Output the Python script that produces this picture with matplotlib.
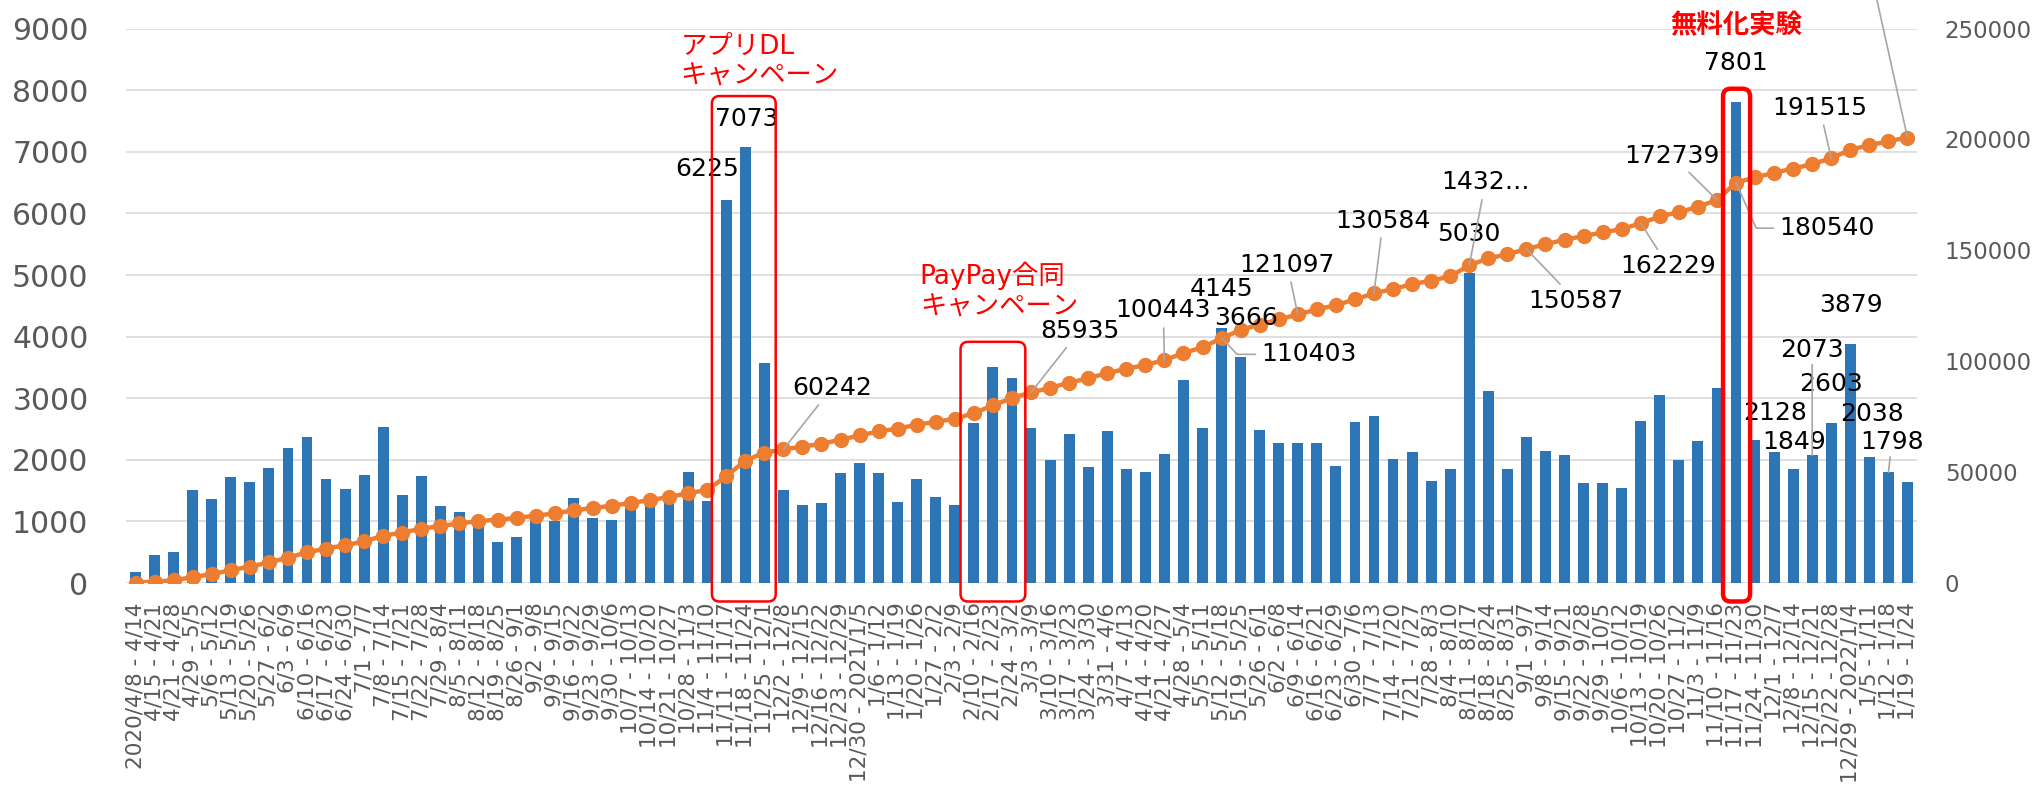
import numpy as np
import matplotlib
matplotlib.use("Agg")
import matplotlib.pyplot as plt
from matplotlib.patches import FancyBboxPatch

plt.rcParams['font.family'] = ['DejaVu Sans', 'Noto Sans CJK JP']

# weekly periods (x categories)
weeks = [
    "2020/4/8 - 4/14", "4/15 - 4/21", "4/21 - 4/28", "4/29 - 5/5", "5/6 - 5/12",
    "5/13 - 5/19", "5/20 - 5/26", "5/27 - 6/2", "6/3 - 6/9", "6/10 - 6/16",
    "6/17 - 6/23", "6/24 - 6/30", "7/1 - 7/7", "7/8 - 7/14", "7/15 - 7/21",
    "7/22 - 7/28", "7/29 - 8/4", "8/5 - 8/11", "8/12 - 8/18", "8/19 - 8/25",
    "8/26 - 9/1", "9/2 - 9/8", "9/9 - 9/15", "9/16 - 9/22", "9/23 - 9/29",
    "9/30 - 10/6", "10/7 - 10/13", "10/14 - 10/20", "10/21 - 10/27", "10/28 - 11/3",
    "11/4 - 11/10", "11/11 - 11/17", "11/18 - 11/24", "11/25 - 12/1", "12/2 - 12/8",
    "12/9 - 12/15", "12/16 - 12/22", "12/23 - 12/29", "12/30 - 2021/1/5",
    "1/6 - 1/12", "1/13 - 1/19", "1/20 - 1/26", "1/27 - 2/2", "2/3 - 2/9",
    "2/10 - 2/16", "2/17 - 2/23", "2/24 - 3/2", "3/3 - 3/9", "3/10 - 3/16",
    "3/17 - 3/23", "3/24 - 3/30", "3/31 - 4/6", "4/7 - 4/13", "4/14 - 4/20",
    "4/21 - 4/27", "4/28 - 5/4", "5/5 - 5/11", "5/12 - 5/18", "5/19 - 5/25",
    "5/26 - 6/1", "6/2 - 6/8", "6/9 - 6/14", "6/16 - 6/21", "6/23 - 6/29",
    "6/30 - 7/6", "7/7 - 7/13", "7/14 - 7/20", "7/21 - 7/27", "7/28 - 8/3",
    "8/4 - 8/10", "8/11 - 8/17", "8/18 - 8/24", "8/25 - 8/31", "9/1 - 9/7",
    "9/8 - 9/14", "9/15 - 9/21", "9/22 - 9/28", "9/29 - 10/5", "10/6 - 10/12",
    "10/13 - 10/19", "10/20 - 10/26", "10/27 - 11/2", "11/3 - 11/9", "11/10 - 11/16",
    "11/17 - 11/23", "11/24 - 11/30", "12/1 - 12/7", "12/8 - 12/14", "12/15 - 12/21",
    "12/22 - 12/28", "12/29 - 2022/1/4", "1/5 - 1/11", "1/12 - 1/18", "1/19 - 1/24",
]

# weekly count (bars, left axis)
weekly = [
    186, 453, 503, 1516, 1366, 1720, 1646, 1870, 2186, 2373,
    1683, 1522, 1758, 2534, 1422, 1733, 1242, 1149, 1050, 671,
    752, 1043, 1000, 1385, 1056, 1025, 1250, 1300, 1340, 1801,
    1335, 6225, 7073, 3565, 1509, 1261, 1298, 1780, 1955, 1789,
    1317, 1690, 1391, 1270, 2596, 3514, 3323, 2509, 2000, 2416,
    1890, 2460, 1850, 1800, 2092, 3292, 2523, 4145, 3666, 2491,
    2272, 2265, 2280, 1895, 2609, 2703, 2010, 2130, 1651, 1857,
    5030, 3110, 1845, 2370, 2145, 2075, 1622, 1628, 1540, 2632,
    3045, 1990, 2305, 3170, 7801, 2322, 2128, 1849, 2073, 2603,
    3879, 2038, 1798, 1633,
]

# running total (line, right axis)
total = [
    186, 639, 1142, 2658, 4024, 5744, 7390, 9260, 11446, 13819,
    15502, 17024, 18782, 21316, 22738, 24471, 25713, 26862, 27912, 28583,
    29335, 30378, 31378, 32763, 33819, 34844, 36094, 37394, 38734, 40535,
    41870, 48095, 55168, 58733, 60242, 61503, 62801, 64581, 66536, 68325,
    69642, 71332, 72723, 73993, 76589, 80103, 83426, 85935, 87935, 90351,
    92241, 94701, 96551, 98351, 100443, 103735, 106258, 110403, 114069, 116560,
    118832, 121097, 123377, 125272, 127881, 130584, 132594, 134724, 136375, 138232,
    143262, 146372, 148217, 150587, 152732, 154807, 156429, 158057, 159597, 162229,
    165274, 167264, 169569, 172739, 180540, 182862, 184990, 186839, 188912, 191515,
    195394, 197432, 199230, 200863,
]

# which points carry a value label
bar_label_idx = [31, 32, 57, 58, 70, 84, 86, 87, 89, 90, 91]
total_label_idx = [34, 47, 54, 57, 61, 65, 70, 73, 79, 83, 84, 89]
total_label_text = ["60242", "85935", "100443", "110403", "121097", "130584",
                    "1432…", "150587", "162229", "172739", "180540", "191515"]

# label positions (x in category units, y in left-axis units)
bar_label_pos = [(30.0, 6720), (32.1, 7530), (57.0, 4767), (58.3, 4300), (70.0, 5667),
                 (84.0, 8441), (86.04, 2762), (87.03, 2297), (88.98, 3228),
                 (90.03, 4519), (91.15, 2750)]
total_label_pos = [(36.55, 3166), (49.56, 4097), (53.94, 4425), (61.58, 3712),
                   (60.45, 5170), (65.48, 5884), (70.85, 6505), (75.61, 4581),
                   (80.46, 5139), (80.64, 6939), (88.75, 5760), (88.39, 7715)]
# leaders that bend (start from the left side of the label)
bent = {57: -46, 84: -66}

blue = '#2E75B6'
orange = '#ED7D31'
grey = '#595959'
leader = '#A6A6A6'

fig = plt.figure(figsize=(20.37, 7.94), dpi=100)
ax = fig.add_axes([0.06186, 0.26574, 0.87923, 0.69824])
ax2 = ax.twinx()

x = np.arange(len(weeks))
ax.bar(x, weekly, width=0.57, color=blue, zorder=2)
ax.set_xlim(-0.5, len(weeks) - 0.5)
ax.set_ylim(0, 9000)
ax.set_yticks(np.arange(0, 9001, 1000))
ax.set_xticks(x)
ax.set_xticklabels(weeks, rotation=90)
ax.grid(axis='y', color='#D9D9D9', lw=1.2, zorder=0)
ax.set_axisbelow(True)
ax.tick_params(axis='y', length=0, pad=27, labelsize=21.5, labelcolor=grey)
ax.tick_params(axis='x', length=0, pad=14, labelsize=15.5, labelcolor=grey)

ax2.plot(x, total, color=orange, lw=3.2, marker='o', ms=10, zorder=2)
ax2.set_ylim(0, 250000)
ax2.set_yticks(np.arange(0, 250001, 50000))
ax2.tick_params(axis='y', length=0, pad=20, labelsize=16.5, labelcolor=grey)

for a in (ax, ax2):
    for s in a.spines.values():
        s.set_visible(False)

# bar value labels
for i, (tx, ty) in zip(bar_label_idx, bar_label_pos):
    ax2.text(tx, ty, str(weekly[i]), transform=ax.transData, fontsize=18,
             ha='center', va='center', color='black', zorder=5)

# bar labels with a leader line
for i, (tx, ty) in [(88, (88.0, 3786)), (92, (92.18, 2284))]:
    ax2.annotate(str(weekly[i]), xy=(i, weekly[i]), xycoords=ax.transData,
                 xytext=(tx, ty), textcoords=ax.transData, fontsize=18,
                 ha='center', va='center', color='black', zorder=5,
                 arrowprops=dict(arrowstyle='-', color=leader, lw=1.2,
                                 shrinkA=0, shrinkB=0))

# running total labels with leader lines
for i, s, (tx, ty) in zip(total_label_idx, total_label_text, total_label_pos):
    props = dict(arrowstyle='-', color=leader, lw=1.2, shrinkA=2, shrinkB=0)
    if i in bent:
        props['connectionstyle'] = 'angle,angleA=0,angleB=%d,rad=0' % bent[i]
        props['relpos'] = (0, 0.5)
    ax2.annotate(s, xy=(i, total[i]), xytext=(tx, ty), textcoords=ax.transData,
                 fontsize=18, ha='center', va='center', color='black', zorder=5,
                 arrowprops=props)

# last point: label sits above the picture, only the leader is visible
ax2.annotate('', xy=(93, total[93]), xytext=(91.3, 9600), textcoords=ax.transData,
             annotation_clip=False,
             arrowprops=dict(arrowstyle='-', color=leader, lw=1.2, shrinkA=0, shrinkB=0))

# red campaign boxes
ax_w = 0.87923 * 2037
ax_h = 0.69824 * 794
aspect = (ax_w / len(weeks)) / (ax_h / 9000)
boxes = [(30.25, 33.6, 7905, 1.8), (43.3, 46.7, 3915, 1.8), (83.32, 84.74, 8024, 3.2)]
for x0, x1, top, lw in boxes:
    p = FancyBboxPatch((x0, -300), x1 - x0, top + 300,
                       boxstyle='round,pad=0,rounding_size=0.4',
                       mutation_aspect=aspect, fill=False, ec='#FF0000', lw=lw,
                       transform=ax.transData, clip_on=False, zorder=6)
    ax2.add_patch(p)

notes = [(28.6, 8710, "アプリDL", 'normal', 'left'),
         (28.6, 8214, "キャンペーン", 'normal', 'left'),
         (41.16, 4985, "PayPay合同", 'normal', 'left'),
         (41.16, 4466, "キャンペーン", 'normal', 'left'),
         (84.0, 9040, "無料化実験", 'bold', 'center')]
for tx, ty, s, w, ha in notes:
    ax2.text(tx, ty, s, transform=ax.transData, fontsize=19, color='#FF0000',
             fontweight=w, ha=ha, va='center', zorder=6)

ax2.set_xlim(-0.5, len(weeks) - 0.5)
ax.set_ylim(0, 9000)

fig.savefig('out.png', dpi=100)
